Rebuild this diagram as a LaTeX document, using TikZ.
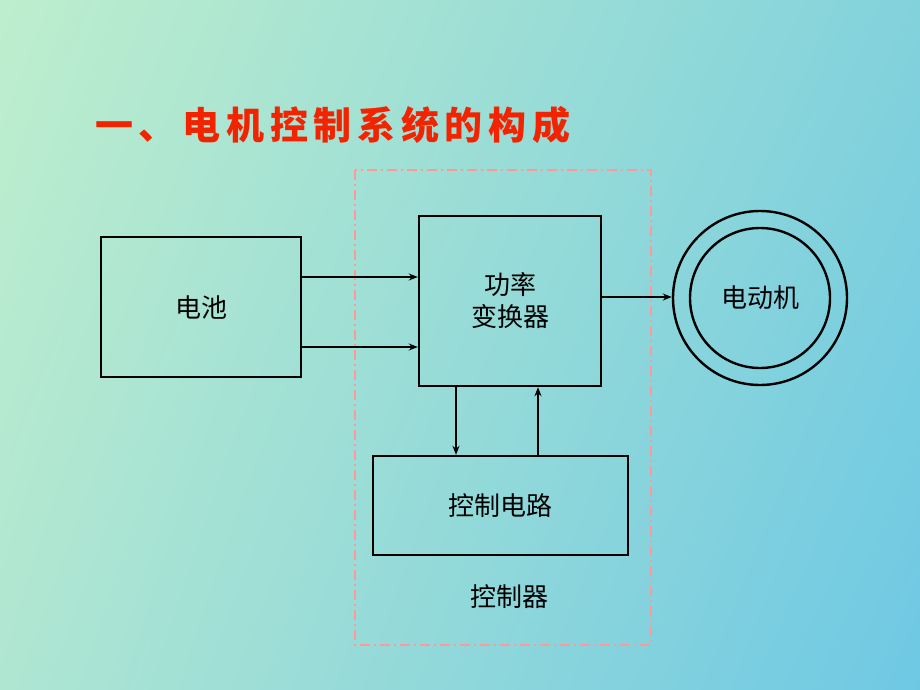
\documentclass[tikz,border=0pt]{standalone}
\usepackage{fontspec}
\newfontfamily\cjk{Noto Sans CJK SC}
\newfontfamily\cjkb[LetterSpace=15]{Noto Sans CJK SC Black}
\usetikzlibrary{arrows.meta,shadings}
\begin{document}
\begin{tikzpicture}[x=1pt,y=-1pt,
  blk/.style={draw=black,line width=2.4pt,inner sep=0pt},
  arr/.style={line width=2pt,-{Stealth[length=9pt,width=7pt]}},
  lbl/.style={font=\cjk\fontsize{26}{32}\selectfont}]
\useasboundingbox (0,0) rectangle (920,690);
\shade[upper left={rgb,255:red,190;green,238;blue,205},upper right={rgb,255:red,130;green,210;blue,220},
 lower left={rgb,255:red,175;green,230;blue,210},lower right={rgb,255:red,110;green,200;blue,228}] (0,0) rectangle (920,690);
\node[font=\cjkb\fontsize{38}{40}\selectfont,text=red!85!yellow!95!black,anchor=west,inner sep=0pt] (title) at (95,125) {一、电机控制系统的构成};
\draw[pink!80!red,line width=2pt,dash pattern=on 10pt off 4pt on 2pt off 4pt] (355,170) rectangle (651,645);
\node[blk,minimum width=200pt,minimum height=140pt,lbl] (bat) at (201,307) {电池};
\node[blk,minimum width=182pt,minimum height=170pt,lbl,align=center] (pc) at (510,301) {功率\\变换器};
\node[blk,minimum width=255pt,minimum height=99pt,lbl] (cc) at (500.5,505.5) {控制电路};
\node[circle,draw,line width=2.4pt,minimum size=174pt,inner sep=0pt] (mo) at (760,298) {};
\node[circle,draw,line width=2.4pt,minimum size=140pt,inner sep=0pt,lbl] (mi) at (760,298) {电动机};
\node[lbl] (ctl) at (509,597) {控制器};
\draw[arr] (bat.east |- 0,277) -- (pc.west |- 0,277);
\draw[arr] (bat.east |- 0,347) -- (pc.west |- 0,347);
\draw[arr] (pc.east |- 0,297) -- (mo.west |- 0,297);
\draw[arr] (pc.south -| 456,0) -- (cc.north -| 456,0);
\draw[arr] (cc.north -| 538,0) -- (pc.south -| 538,0);
\end{tikzpicture}
\end{document}
